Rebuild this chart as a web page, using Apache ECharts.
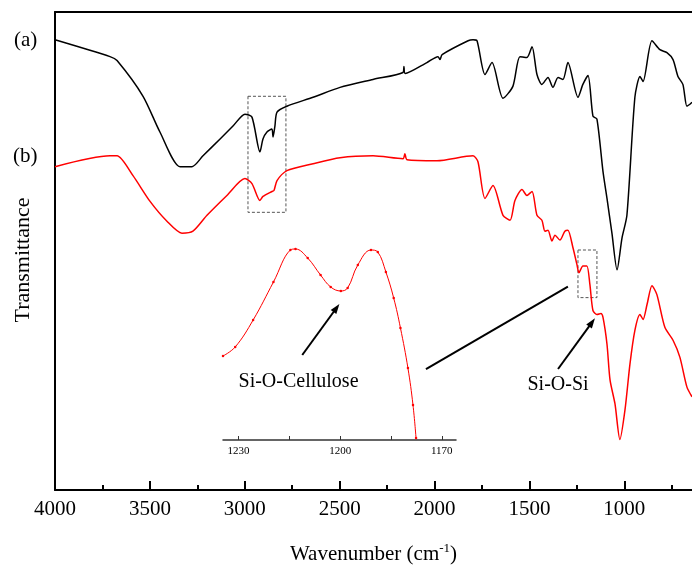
<!DOCTYPE html>
<html>
<head>
<meta charset="utf-8">
<script src="https://cdn.jsdelivr.net/npm/echarts@6/dist/echarts.min.js"></script>
<style>
  html, body { margin: 0; padding: 0; background: #fff; }
  #chart { width: 692px; height: 570px; }
</style>
</head>
<body>
<div id="chart"></div>
<script>
// spectrum (a) - black
var waveA = [4000, 3710, 3673, 3536, 3447, 3341, 3278, 3220, 3130, 3062, 2999, 2962, 2920, 2904, 2883, 2857, 2851, 2841, 2830, 2778, 2640, 2498, 2324, 2166, 2161, 2155, 2040, 1982, 1971, 1960, 1823, 1797, 1776, 1734, 1697, 1639, 1587, 1550, 1513, 1486, 1460, 1434, 1402, 1376, 1349, 1323, 1297, 1244, 1218, 1191, 1165, 1144, 1112, 1091, 1065, 1038, 1012, 986, 944, 917, 901, 854, 812, 775, 743, 717, 691, 670, 654, 643];
var valA  = [454, 437, 433, 397, 361, 326, 326, 337, 354, 367, 379, 376, 341, 354, 361, 364, 356, 367, 381, 387, 396, 406, 414, 421, 427, 420, 431, 437, 434, 439, 453, 454, 453, 419, 431, 395, 407, 437, 436, 447, 419, 409, 416, 406, 416, 414, 431, 396, 409, 418, 377, 374, 321, 294, 259, 222, 254, 277, 396, 417, 412, 453, 444, 441, 434, 417, 409, 387, 389, 391];

// spectrum (b) - red
var waveB = [4000, 3710, 3673, 3589, 3499, 3410, 3331, 3273, 3199, 3094, 2999, 2962, 2920, 2904, 2857, 2846, 2830, 2778, 2640, 2498, 2324, 2166, 2156, 2145, 1987, 1797, 1771, 1734, 1692, 1639, 1602, 1576, 1539, 1513, 1486, 1460, 1434, 1418, 1402, 1381, 1365, 1339, 1313, 1297, 1270, 1249, 1239, 1218, 1197, 1181, 1165, 1144, 1123, 1112, 1091, 1075, 1049, 1023, 996, 970, 944, 917, 901, 880, 854, 828, 786, 743, 707, 670, 643];
var valB  = [326, 337, 337, 317, 291, 271, 259, 261, 277, 297, 314, 309, 292, 296, 301, 302, 312, 322, 329, 335, 337, 334, 339, 333, 332, 337, 331, 294, 307, 277, 272, 292, 303, 297, 301, 277, 272, 261, 262, 251, 257, 252, 261, 262, 244, 227, 219, 226, 226, 207, 181, 177, 178, 174, 147, 111, 87, 51, 81, 127, 161, 177, 172, 187, 206, 197, 164, 151, 134, 104, 94];

// inset (b) zoom, 1235-1166 cm-1
var waveInset = [1234.6, 1231, 1225.7, 1219.7, 1214.7, 1213.2, 1209.6, 1205.8, 1202.8, 1199.8, 1197.8, 1194.8, 1190.9, 1188.9, 1186.5, 1184.2, 1182.2, 1180, 1178.5, 1177.6];
var valInset  = [84, 93, 120, 158, 190, 191, 182, 165, 153, 149, 152, 175, 190, 188, 168, 142, 112, 72, 35, 2];

var mainTicks = [4000, 3500, 3000, 2500, 2000, 1500, 1000];
var mainMinorTicks = [3750, 3250, 2750, 2250, 1750, 1250, 750];
var insetTicks = [1230, 1215, 1200, 1185, 1170];
var insetLabels = [1230, 1200, 1170];

var serif = 'Liberation Serif';

function pairs(xs, ys) {
  return xs.map(function (x, i) { return [x, ys[i]]; });
}

var chart = echarts.init(document.getElementById('chart'));

var option = {
  animation: false,
  backgroundColor: '#fff',
  grid: [
    { left: 55, right: 0, top: 12, bottom: 76 },
    { left: 223, right: 236, top: 240, bottom: 130 }
  ],
  xAxis: [
    {
      type: 'value', gridIndex: 0, inverse: true, min: 643, max: 4000,
      axisLine: { lineStyle: { color: '#000', width: 2 } },
      axisTick: { inside: true, length: 9, customValues: mainTicks, lineStyle: { color: '#000', width: 2 } },
      splitLine: { show: false },
      axisLabel: {
        customValues: mainTicks, margin: 9, fontFamily: serif, fontSize: 21, color: '#000',
        formatter: function (v) { return String(v); }
      },
      name: 'Wavenumber (cm{sup|-1})',
      nameLocation: 'middle', nameGap: 52,
      nameTextStyle: {
        fontFamily: serif, fontSize: 21, color: '#000',
        rich: { sup: { fontFamily: serif, fontSize: 13, color: '#000', padding: [0, 0, 12, 0] } }
      }
    },
    {
      type: 'value', gridIndex: 0, position: 'top', inverse: true, min: 643, max: 4000,
      axisLine: { lineStyle: { color: '#000', width: 2 } },
      axisTick: { show: false }, axisLabel: { show: false }, splitLine: { show: false }
    },
    {
      type: 'value', gridIndex: 1, inverse: true, min: 1165.8, max: 1234.6,
      axisLine: { lineStyle: { color: '#333', width: 1.5 } },
      axisTick: { inside: true, length: 4, customValues: insetTicks, lineStyle: { color: '#333' } },
      axisLabel: {
        customValues: insetLabels, margin: 6, fontFamily: serif, fontSize: 11, color: '#000',
        formatter: function (v) { return String(v); }
      },
      splitLine: { show: false }
    },
    {
      // minor ticks of the main wavenumber axis
      type: 'value', gridIndex: 0, position: 'bottom', inverse: true, min: 643, max: 4000,
      axisLine: { show: false },
      axisTick: { inside: true, length: 5, customValues: mainMinorTicks, lineStyle: { color: '#000', width: 2 } },
      axisLabel: { show: false }, splitLine: { show: false }
    }
  ],
  yAxis: [
    {
      type: 'value', gridIndex: 0, min: 0, max: 482,
      axisLine: { show: true, lineStyle: { color: '#000', width: 2 } },
      axisTick: { show: false }, axisLabel: { show: false }, splitLine: { show: false },
      name: 'Transmittance', nameLocation: 'middle', nameGap: 21,
      nameTextStyle: { fontFamily: serif, fontSize: 22, color: '#000', padding: [0, 0, 0, -18] }
    },
    {
      type: 'value', gridIndex: 1, min: 0, max: 200, show: false
    }
  ],
  graphic: [
    { type: 'text', left: 14, top: 30, style: { text: '(a)', font: '21px "Liberation Serif"', fill: '#000' } },
    { type: 'text', left: 13, top: 146, style: { text: '(b)', font: '21px "Liberation Serif"', fill: '#000' } }
  ],
  series: [
    {
      name: '(a)', type: 'line', xAxisIndex: 0, yAxisIndex: 0,
      data: pairs(waveA, valA), showSymbol: false, smooth: 0.25,
      lineStyle: { color: '#000', width: 1.5 }, itemStyle: { color: '#000' },
      markArea: {
        silent: true,
        itemStyle: { color: 'rgba(0,0,0,0)', borderColor: '#555', borderWidth: 1, borderType: [3, 2] },
        data: [
          [{ coord: [2983, 397] }, { coord: [2783, 280] }],
          [{ coord: [1244, 242] }, { coord: [1144, 194] }]
        ]
      },
      markLine: {
        silent: true, animation: false,
        symbol: ['none', 'none'],
        lineStyle: { color: '#000', width: 2, type: 'solid' },
        label: { show: false },
        data: [
          [{ coord: [2045, 122] }, { coord: [1297, 205] }],
          [{ coord: [1349, 122], symbol: 'none' }, { coord: [1170, 169], symbol: 'triangle', symbolSize: [7, 10] }]
        ]
      },
      markPoint: {
        silent: true, symbol: 'circle', symbolSize: 0,
        label: { show: true, position: 'inside', fontFamily: serif, fontSize: 20, color: '#000' },
        data: [{ coord: [1349, 106], value: 'Si-O-Si', label: { formatter: 'Si-O-Si' } }]
      }
    },
    {
      name: '(b)', type: 'line', xAxisIndex: 0, yAxisIndex: 0,
      data: pairs(waveB, valB), showSymbol: false, smooth: 0.25,
      lineStyle: { color: '#ff0000', width: 1.5 }, itemStyle: { color: '#ff0000' }
    },
    {
      name: 'inset', type: 'line', xAxisIndex: 2, yAxisIndex: 1,
      data: pairs(waveInset, valInset), smooth: 0.4,
      symbol: 'circle', symbolSize: 2.5, showSymbol: true,
      lineStyle: { color: '#ff0000', width: 1 }, itemStyle: { color: '#ff0000' },
      markLine: {
        silent: true, animation: false,
        symbol: ['none', 'triangle'], symbolSize: [7, 10],
        lineStyle: { color: '#000', width: 2, type: 'solid' },
        label: { show: false },
        data: [[{ coord: [1211.2, 85] }, { coord: [1201.1, 132] }]]
      },
      markPoint: {
        silent: true, symbol: 'circle', symbolSize: 0,
        label: { show: true, position: 'inside', fontFamily: serif, fontSize: 20, color: '#000' },
        data: [{ coord: [1212.3, 58], value: 'Si-O-Cellulose', label: { formatter: 'Si-O-Cellulose' } }]
      }
    }
  ]
};

chart.setOption(option);
</script>
</body>
</html>
